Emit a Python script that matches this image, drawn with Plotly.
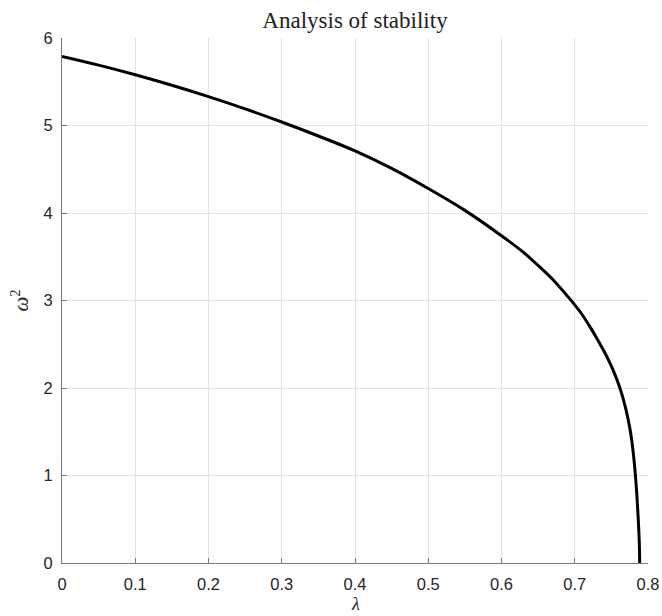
import plotly.graph_objects as go

lam = [0.0, 0.05, 0.10, 0.15, 0.20, 0.25, 0.30, 0.35, 0.40, 0.45, 0.50, 0.55,
       0.60, 0.63, 0.65, 0.67, 0.69, 0.70, 0.71, 0.72, 0.73, 0.74, 0.75, 0.755,
       0.76, 0.765, 0.77, 0.775, 0.778, 0.781, 0.783, 0.785, 0.7865, 0.7877, 0.7883, 0.7886]
omega2 = [5.79, 5.69, 5.58, 5.46, 5.33, 5.19, 5.04, 4.88, 4.71, 4.51, 4.28, 4.03,
          3.74, 3.55, 3.40, 3.24, 3.05, 2.95, 2.84, 2.71, 2.57, 2.42, 2.25, 2.15,
          2.04, 1.91, 1.75, 1.55, 1.39, 1.17, 0.98, 0.75, 0.53, 0.32, 0.18, 0.0]

x_ticks = [0, 0.1, 0.2, 0.3, 0.4, 0.5, 0.6, 0.7, 0.8]
x_labels = ["0", "0.1", "0.2", "0.3", "0.4", "0.5", "0.6", "0.7", "0.8"]
y_ticks = [0, 1, 2, 3, 4, 5, 6]
y_labels = ["0", "1", "2", "3", "4", "5", "6"]

fig = go.Figure()
fig.add_trace(go.Scatter(x=lam, y=omega2, mode="lines",
                         line=dict(color="black", width=3, shape="spline", smoothing=1.0),
                         showlegend=False, hoverinfo="skip"))

axis_common = dict(showgrid=True, gridcolor="#e3e3e3", gridwidth=1,
                   showline=True, linecolor="#7a7a7a", linewidth=1.2,
                   ticks="inside", ticklen=5, tickcolor="#7a7a7a",
                   tickfont=dict(family="Liberation Sans, Arial", size=16.5, color="#262626"),
                   zeroline=False, mirror=False, automargin=False)

fig.update_layout(
    width=662, height=616,
    margin=dict(l=62, r=14, t=38, b=53),
    paper_bgcolor="white", plot_bgcolor="white",
    title=dict(text="Analysis of stability", x=(62 + 648) / 2 / 662, xanchor="center",
               y=1 - 20 / 616, yanchor="middle", yref="container",
               font=dict(family="Liberation Serif, Times New Roman", size=23, color="#222")),
    xaxis=dict(range=[0, 0.8], tickvals=x_ticks, ticktext=x_labels, ticklabelstandoff=6,
               **axis_common),
    yaxis=dict(range=[0, 6], tickvals=y_ticks, ticktext=y_labels, ticklabelstandoff=5,
               **axis_common),
    annotations=[
        dict(text="<i>λ</i>", xref="paper", yref="paper", x=0.5, y=0, yshift=-41,
             xanchor="center", yanchor="middle", showarrow=False, borderpad=0,
             font=dict(family="Liberation Serif", size=18, color="#262626")),
        dict(text="<i>ω</i><sup>2</sup>", xref="paper", yref="paper", x=0, y=0.5,
             xshift=-42, xanchor="center", yanchor="middle", showarrow=False, textangle=-90,
             font=dict(family="Liberation Serif", size=21, color="#262626")),
    ],
)

fig.write_html("out.html")
